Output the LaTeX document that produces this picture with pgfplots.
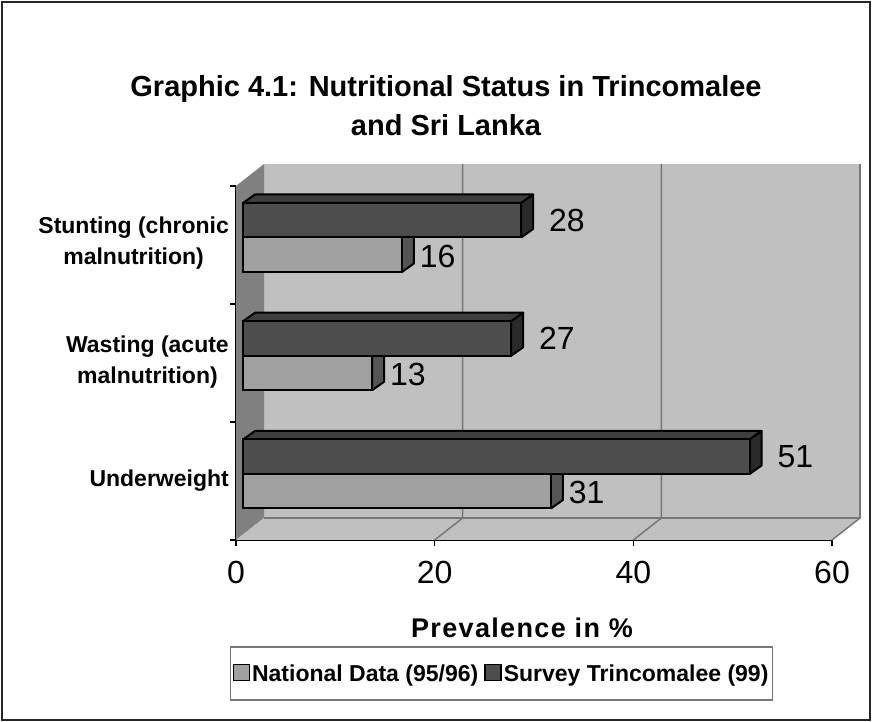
\documentclass[border=0pt]{standalone}
\usepackage{fontspec}
\setmainfont{Liberation Sans}
\usepackage{pgfplots}
\pgfplotsset{compat=1.18}
\definecolor{wallback}{HTML}{C0C0C0}
\definecolor{wallside}{HTML}{808080}
\definecolor{wallline}{HTML}{777777}
\definecolor{natfront}{HTML}{A0A0A0}
\definecolor{nattop}{HTML}{808080}
\definecolor{natside}{HTML}{555555}
\definecolor{survfront}{HTML}{4D4D4D}
\definecolor{survtop}{HTML}{3E3E3E}
\definecolor{survside}{HTML}{2A2A2A}

% 3D top and right faces of a bar: #1 value, #2 bar centre, #3 top colour, #4 side colour
\newcommand\boxfaces[4]{%
  \pgfmathsetmacro\bxr{#1+1.208}%
  \pgfmathsetmacro\byt{#2+17.25}%
  \pgfmathsetmacro\byb{#2-17.25}%
  \pgfmathsetmacro\bytt{#2+25.75}%
  \pgfmathsetmacro\bybt{#2-8.75}%
  \edef\doplot{\noexpand\addplot[forget plot, fill=#3, draw=black, line width=2pt, line join=round, xshift=7pt, yshift=5.5pt] coordinates {(0,\byt) (#1,\byt) (\bxr,\bytt) (1.208,\bytt) (0,\byt)};
  \noexpand\addplot[forget plot, fill=#4, draw=black, line width=2pt, line join=round, xshift=7pt, yshift=5.5pt] coordinates {(#1,\byb) (\bxr,\bybt) (\bxr,\bytt) (#1,\byt) (#1,\byb)};}%
  \doplot
}

\begin{document}
\begin{tikzpicture}[x=1pt,y=1pt]
\useasboundingbox (0,0) rectangle (872,722);
\draw[line width=1.5pt, black!85] (2,2) rectangle (870,720);
\node[font=\bfseries\fontsize{29}{39}\selectfont, align=center] at (446,616.5)
  {Graphic 4.1: Nutritional Status in Trincomalee\\and Sri Lanka};
\node[font=\bfseries\fontsize{27}{28}\selectfont\addfontfeature{LetterSpace=5}] at (522,94) {Prevalence in \%};

\begin{axis}[
  at={(236pt,182pt)}, anchor=south west,
  scale only axis, width=596pt, height=354pt,
  xmin=0, xmax=60, ymin=0, ymax=354, clip=false,
  axis x line*=bottom, axis y line*=left,
  axis line style={line width=1.5pt, black},
  xtick={0,20,40,60}, ytick={0,118,236,354}, yticklabels={,,,},
  tick align=outside, major tick length=6pt,
  tick style={line width=1.5pt, black},
  /pgf/number format/assume math mode=true,
  xticklabel style={font=\fontsize{32}{32}\selectfont, inner sep=0pt, yshift=-15pt},
  extra y ticks={59,177.5,296.5},
  extra y tick labels={Underweight,{Wasting (acute\\malnutrition)},{Stunting (chronic\\malnutrition)}},
  extra y tick style={major tick length=0pt,
    yticklabel style={align=center, font=\bfseries\fontsize{23}{31}\selectfont, inner sep=0pt, xshift=-7pt}},
  legend style={at={(axis description cs:0.4455,-0.377)}, anchor=center,
    draw=wallline, line width=1.5pt, fill=white, legend columns=2,
    font=\bfseries\fontsize{23}{26}\selectfont,
    inner xsep=2pt, inner ysep=15.5pt,
    nodes={inner sep=2pt},
    /tikz/every even column/.append style={column sep=4pt}},
  legend cell align=left,
  legend image code/.code={\draw[#1, line width=1.5pt] (0pt,-7pt) rectangle (16pt,9pt);},
]
% walls
\fill[wallback] (axis cs:2.819,22) rectangle (axis cs:62.819,376);
\fill[wallside] (axis cs:0,0) -- (axis cs:2.819,22) -- (axis cs:2.819,376) -- (axis cs:0,354) -- cycle;
\fill[wallback] (axis cs:0,0) -- (axis cs:60,0) -- (axis cs:62.819,22) -- (axis cs:2.819,22) -- cycle;
\draw[wallline, line width=1.5pt] (axis cs:2.819,22) -- (axis cs:62.819,22) -- (axis cs:62.819,376);
\draw[wallline, line width=1.5pt] (axis cs:60,0) -- (axis cs:62.819,22);
\draw[wallline, line width=1.5pt] (axis cs:20,0) -- (axis cs:22.819,22) -- (axis cs:22.819,376);
\draw[wallline, line width=1.5pt] (axis cs:40,0) -- (axis cs:42.819,22) -- (axis cs:42.819,376);

% National Data (95/96)
\boxfaces{31}{43.25}{nattop}{natside}
\boxfaces{13}{161.5}{nattop}{natside}
\boxfaces{16}{279.75}{nattop}{natside}
\addplot[forget plot, xbar, bar width=34.5, fill=natfront, draw=black, line width=2pt,
  xshift=7pt, yshift=5.5pt, point meta=x, nodes near coords,
  every node near coord/.append style={anchor=west, inner sep=0pt, xshift=17pt, yshift=-1.5pt,
    font=\fontsize{32}{32}\selectfont, black}]
  coordinates {(31,43.25) (13,161.5) (16,279.75)};

% Survey Trincomalee (99)
\boxfaces{51}{77.75}{survtop}{survside}
\boxfaces{27}{196}{survtop}{survside}
\boxfaces{28}{314.25}{survtop}{survside}
\addplot[forget plot, xbar, bar width=34.5, fill=survfront, draw=black, line width=2pt,
  xshift=7pt, yshift=5.5pt, point meta=x, nodes near coords,
  every node near coord/.append style={anchor=west, inner sep=0pt, xshift=27pt, yshift=0pt,
    font=\fontsize{32}{32}\selectfont, black}]
  coordinates {(51,77.75) (27,196) (28,314.25)};

\addlegendimage{fill=natfront, draw=black}
\addlegendentry{National Data (95/96)}
\addlegendimage{fill=survfront, draw=black}
\addlegendentry{Survey Trincomalee (99)}
\end{axis}
\end{tikzpicture}
\end{document}
